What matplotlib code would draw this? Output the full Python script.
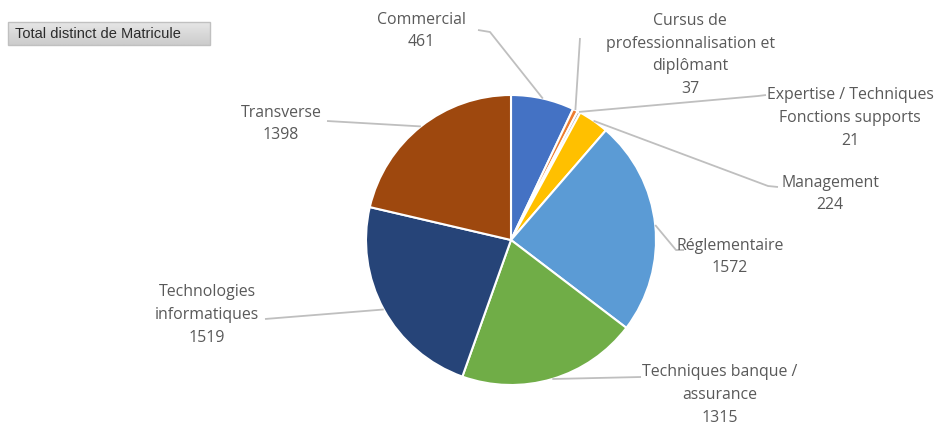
import numpy as np
import matplotlib
matplotlib.use("Agg")
import matplotlib.pyplot as plt
from matplotlib.patches import Rectangle

plt.rcParams['font.family'] = ['Open Sans', 'DejaVu Sans']

categories = ['Commercial',
              'Cursus de\nprofessionnalisation et\ndiplômant',
              'Expertise / Techniques\nFonctions supports',
              'Management',
              'Réglementaire',
              'Techniques banque /\nassurance',
              'Technologies\ninformatiques',
              'Transverse']
values = [461, 37, 21, 224, 1572, 1315, 1519, 1398]
colors = ['#4472C4', '#ED7D31', '#A5A5A5', '#FFC000',
          '#5B9BD5', '#70AD47', '#264478', '#9E480E']

# label block centre (pixels, from top-left) and where the leader line leaves the text
label_pos = [(421, 31), (690, 55), (850, 118), (830, 194),
             (730, 257), (720, 395), (207, 315), (281, 124)]
line_start = [[(478, 30), (490, 32)],
              [(580, 38)],
              [(766, 95), (758, 96)],
              [(778, 187), (768, 186)],
              [(684, 250), (676, 250)],
              [(641, 377)],
              [(265, 319)],
              [(327, 121)]]

W, H = 935, 425
cx, cy, r = 511, 240, 145


def flip(p):
    return p[0], H - p[1]


fig = plt.figure(figsize=(W / 100, H / 100), dpi=100)
ax = fig.add_axes([0, 0, 1, 1])

wedges, _ = ax.pie(values, colors=colors, startangle=90, counterclock=False,
                   center=flip((cx, cy)), radius=r,
                   wedgeprops=dict(edgecolor='white', linewidth=1.5))
ax.set_xlim(0, W)
ax.set_ylim(0, H)
ax.set_aspect('equal')
ax.axis('off')

grey = '#595959'
for w, name, val, pos, start in zip(wedges, categories, values, label_pos, line_start):
    mid = np.deg2rad((w.theta1 + w.theta2) / 2)
    px = cx + r * np.cos(mid)
    py = cy - r * np.sin(mid)
    pts = [flip(p) for p in start] + [flip((px, py))]
    xs, ys = zip(*pts)
    ax.plot(xs, ys, color='#bfbfbf', lw=1.3, solid_capstyle='butt')
    tx, ty = flip(pos)
    ax.text(tx, ty, name + '\n' + str(val), ha='center', va='center',
            fontsize=11.4, color=grey, linespacing=1.55)

# field button with a light vertical gradient
grad = np.linspace(0.9, 0.8, 20).reshape(-1, 1)
ax.imshow(grad, extent=(8, 210, H - 45, H - 22), cmap='gray', vmin=0, vmax=1,
          aspect='auto', zorder=1)
ax.add_patch(Rectangle((8, H - 45), 202, 23, facecolor='none',
                       edgecolor='#c0c0c0', lw=1, zorder=2))
ax.set_xlim(0, W)
ax.set_ylim(0, H)
ax.text(15, H - 33.5, 'Total distinct de Matricule', ha='left', va='center',
        fontsize=10.5, color='#2b2b2b', zorder=3,
        family=['Liberation Sans Narrow', 'Liberation Sans', 'DejaVu Sans'])

fig.savefig('out.png', dpi=100)
